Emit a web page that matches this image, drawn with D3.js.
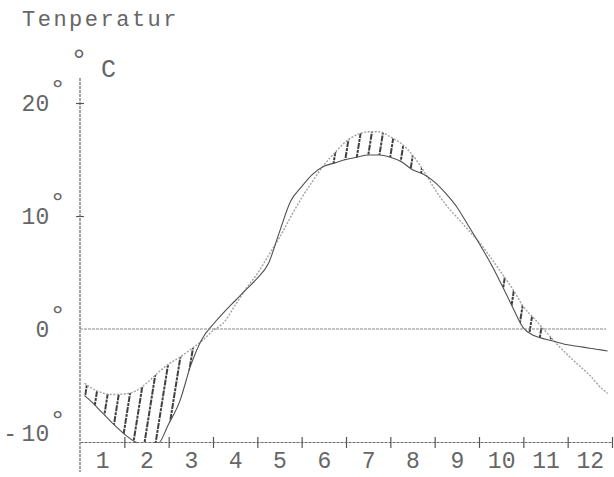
<!DOCTYPE html>
<html>
<head>
<meta charset="utf-8">
<script src="https://cdn.jsdelivr.net/npm/d3@7"></script>
<style>
  body { margin: 0; background: #fff; }
  text { font-family: "Liberation Mono", "DejaVu Sans Mono", monospace; fill: #666; }
</style>
</head>
<body>
<svg id="c" width="614" height="477"></svg>
<script>
// Monate (Achsenbeschriftung) und Temperaturmarken
const monate = ["1", "2", "3", "4", "5", "6", "7", "8", "9", "10", "11", "12"];
const gradMarken = [-10, 0, 10, 20];

// Stützstellen in Monaten (0 = Jahresbeginn)
const stellen = [0.1, 0.25, 0.5, 0.75, 1, 1.25, 1.5, 1.75, 2, 2.25, 2.5, 2.75,
  3, 3.25, 3.5, 3.75, 4, 4.25, 4.5, 4.75, 5, 5.25, 5.5, 5.75,
  6, 6.25, 6.5, 6.75, 7, 7.25, 7.5, 7.75, 8, 8.25, 8.5, 8.75,
  9, 9.25, 9.5, 9.75, 10, 10.25, 10.5, 10.75, 11, 11.25, 11.5, 11.75, 11.9];

// langjähriges Mittel (helle Kurve), °C
const mittel = [-4.8, -5.2, -5.65, -5.8, -5.75, -5.5, -4.8, -3.9, -3.1, -2.5, -1.8, -1.05,
  -0.15, 0.6, 2.1, 3.6, 4.9, 6.5, 8.1, 9.9, 11.6, 13.1, 14.5, 15.6,
  16.6, 17.2, 17.45, 17.45, 17.0, 16.4, 15.4, 14.0, 12.4, 11.0, 9.9, 8.8,
  7.7, 6.4, 5.0, 3.6, 2.0, 0.9, -0.2, -1.3, -2.3, -3.2, -4.1, -5.2, -5.7];

// einzelnes Jahr (dunkle Kurve), °C
const jahr = [-5.9, -6.4, -7.4, -8.4, -9.3, -10.0, -10.3, -10.2, -8.4, -6.4, -3.2, -0.9,
  0.4, 1.5, 2.5, 3.5, 4.5, 5.8, 8.6, 11.3, 12.6, 13.7, 14.4, 14.7,
  15.0, 15.2, 15.4, 15.4, 15.2, 14.8, 14.1, 13.7, 13.0, 12.0, 10.8, 9.2,
  7.6, 5.9, 4.0, 2.0, 0.1, -0.6, -0.9, -1.15, -1.4, -1.55, -1.7, -1.85, -1.95];

// schraffierte Abschnitte (Monate von–bis)
const schraffur = [[0.1, 2.75], [5.5, 7.75], [9.5, 10.75]];

const svg = d3.select("#c");
const x = d3.scaleLinear().domain([0, 12]).range([80, 612]);
const y = d3.scaleLinear().domain([-10, 20]).range([442, 103]);

const defs = svg.append("defs");
const pat = defs.append("pattern")
  .attr("id", "strich")
  .attr("patternUnits", "userSpaceOnUse")
  .attr("width", 11).attr("height", 11)
  .attr("patternTransform", "rotate(9)");
pat.append("line")
  .attr("x1", 3).attr("y1", 0).attr("x2", 3).attr("y2", 11)
  .attr("stroke", "#2b2b2b").attr("stroke-width", 1.8)
  .attr("stroke-dasharray", "3 1");
defs.append("clipPath").attr("id", "feld")
  .append("rect").attr("x", 80).attr("y", 60).attr("width", 540).attr("height", 383);

const punkte = stellen.map((t, i) => ({ t, m: mittel[i], j: jahr[i] }));

// Schraffur zwischen den Kurven
const plot = svg.append("g").attr("clip-path", "url(#feld)");
schraffur.forEach(([a, b]) => {
  const teil = punkte.filter(d => d.t >= a - 1e-9 && d.t <= b + 1e-9);
  plot.append("path")
    .datum(teil)
    .attr("fill", "url(#strich)")
    .attr("d", d3.area()
      .x(d => x(d.t))
      .y0(d => y(d.j))
      .y1(d => y(d.m))
      .curve(d3.curveMonotoneX));
});

// Achsen
const achse = svg.append("g").attr("stroke", "#6a6a6a").attr("stroke-width", 1.2)
  .attr("stroke-dasharray", "3 1");
achse.append("line").attr("x1", x(0)).attr("x2", x(0)).attr("y1", 78).attr("y2", 472);
achse.append("line").attr("x1", x(0)).attr("x2", 606).attr("y1", y(0)).attr("y2", y(0))
  .attr("stroke", "#8a8a8a");

// x-Achse: Teilstriche an Monatsgrenzen, Beschriftung in Monatsmitte
const xStriche = svg.append("g").attr("transform", `translate(0,${y(-10)})`)
  .call(d3.axisBottom(x).tickValues(d3.range(1, 13)).tickSize(0).tickFormat(""));
xStriche.select(".domain").attr("stroke", "#6a6a6a").attr("stroke-width", 1.2)
  .attr("stroke-dasharray", "3 1");
xStriche.selectAll(".tick line").attr("y1", -5).attr("y2", 6)
  .attr("stroke", "#555").attr("stroke-width", 1.2);

const xText = svg.append("g").attr("transform", `translate(0,${y(-10)})`)
  .call(d3.axisBottom(x).tickValues(monate.map((m, i) => i + 0.5))
    .tickSize(0).tickPadding(10).tickFormat((d, i) => monate[i]));
xText.select(".domain").remove();
xText.selectAll("text").style("font-size", "23px").attr("fill", "#666");

// y-Achse: Beschriftung mit Gradzeichen
const yAchse = svg.append("g").attr("transform", `translate(${x(0)},0)`)
  .call(d3.axisLeft(y).tickValues(gradMarken).tickSize(0).tickPadding(14).tickFormat(""));
yAchse.select(".domain").remove();
yAchse.selectAll(".tick").each(function (d) {
  const g = d3.select(this);
  if (d === 10 || d === 20) {
    g.append("line").attr("x1", -4).attr("x2", 4).attr("stroke", "#555").attr("stroke-width", 1.2);
  }
  const t = g.select("text")
    .attr("dy", d === -10 ? "-0.05em" : "0.32em")
    .style("font-size", "23px")
    .attr("fill", "#666");
  t.text(null);
  t.append("tspan").text(String(d).replace("-", "-\u2009"));
  t.append("tspan").attr("dy", "-0.45em").style("font-size", "28px").text("°");
});

// Kurven
plot.append("path").datum(punkte)
  .attr("fill", "none").attr("stroke", "#a2a2a2").attr("stroke-width", 1.4)
  .attr("stroke-dasharray", "2 1.5")
  .attr("d", d3.line().x(d => x(d.t)).y(d => y(d.m)).curve(d3.curveMonotoneX));
plot.append("path").datum(punkte)
  .attr("fill", "none").attr("stroke", "#505050").attr("stroke-width", 1.1)
  .attr("d", d3.line().x(d => x(d.t)).y(d => y(d.j)).curve(d3.curveMonotoneX));

// Titel und Einheit
svg.append("text").attr("x", 22).attr("y", 26).style("font-size", "22px")
  .style("letter-spacing", "2.5px").text("Tenperatur");
svg.append("text").attr("x", 70).attr("y", 70).style("font-size", "30px").text("°");
svg.append("text").attr("x", 101).attr("y", 77).style("font-size", "25px").text("C");
</script>
</body>
</html>
